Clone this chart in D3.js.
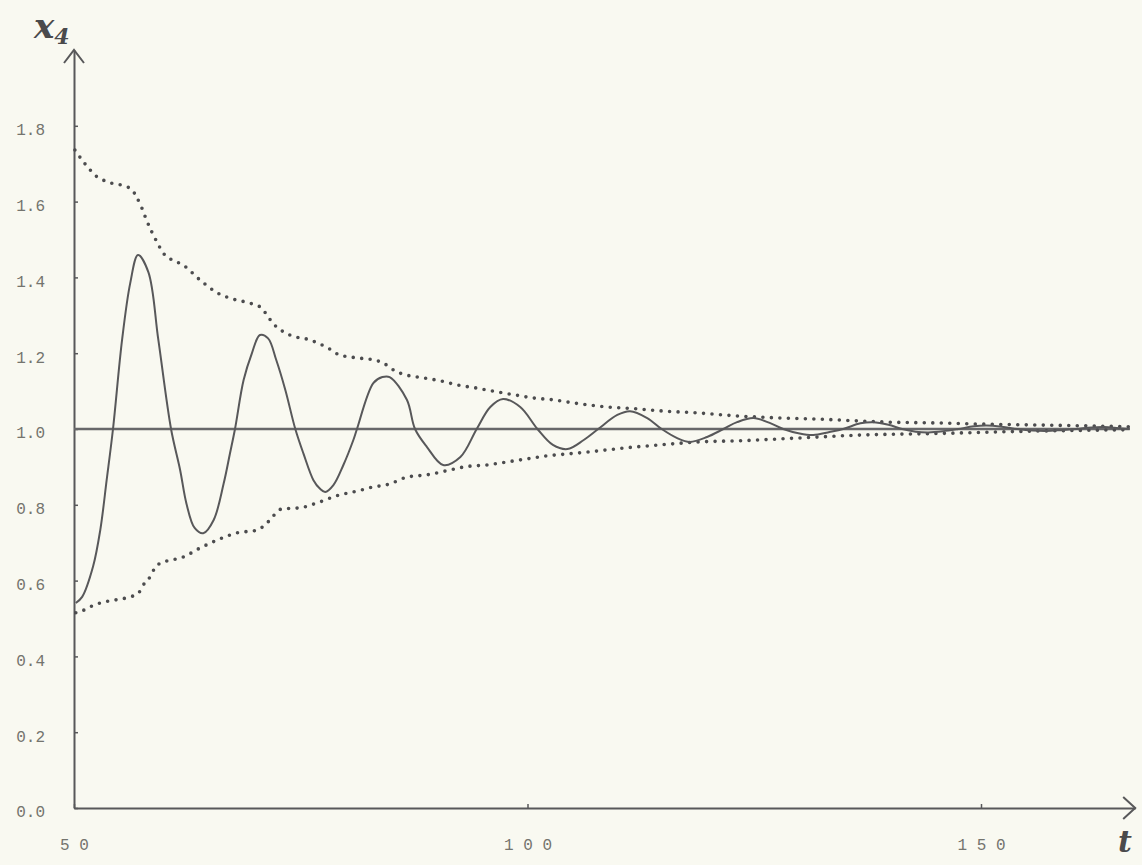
<!DOCTYPE html>
<html>
<head>
<meta charset="utf-8">
<script src="https://cdn.jsdelivr.net/npm/d3@7"></script>
<style>
  html, body { margin: 0; padding: 0; background: #f9f9f1; }
  svg { display: block; }
  .tick text { font-family: "Liberation Mono", "DejaVu Sans Mono", monospace; fill: #74746e; }
</style>
</head>
<body>
<div id="chart"></div>
<script>
// x4 response, t from 50 on as [t, x4]
const solidCurve = [
  [50.2, 0.541], [50.9, 0.557], [52.1, 0.637], [52.9, 0.734], [53.6, 0.865],
  [54.3, 1.0], [55.3, 1.235], [56.2, 1.385], [57.06, 1.459], [58.2, 1.414],
  [59.3, 1.235], [60.7, 1.0], [61.7, 0.892], [62.4, 0.803], [63.3, 0.739],
  [64.25, 0.725], [65.4, 0.76], [66.5, 0.856], [67.2, 0.936], [67.75, 1.0],
  [68.7, 1.129], [69.6, 1.199], [70.5, 1.248], [71.4, 1.239], [72.3, 1.182],
  [73.3, 1.103], [74.4, 1.0], [75.3, 0.935], [76.4, 0.865], [77.1, 0.843],
  [77.7, 0.834], [78.6, 0.852], [79.7, 0.905], [80.8, 0.971], [81.2, 1.0],
  [83.0, 1.121], [84.0, 1.137], [84.8, 1.137], [86.7, 1.077], [87.6, 1.0],
  [88.9, 0.953], [90.7, 0.905], [92.6, 0.926], [94.4, 1.0], [95.9, 1.058],
  [97.3, 1.079], [99.2, 1.058], [101.1, 1.0], [102.8, 0.958], [104.4, 0.947],
  [106.2, 0.971], [107.8, 1.0], [109.9, 1.037], [111.3, 1.047], [113.2, 1.029],
  [114.8, 1.0], [116.5, 0.976], [117.9, 0.966], [119.8, 0.979], [121.6, 1.0],
  [123.1, 1.018], [124.9, 1.029], [126.7, 1.016], [128.2, 1.0], [130.0, 0.988],
  [131.5, 0.984], [133.3, 0.992], [134.8, 1.0], [136.7, 1.015], [138.1, 1.018],
  [139.8, 1.011], [141.3, 1.0], [142.8, 0.993], [144.2, 0.991], [145.8, 0.994],
  [147.5, 1.0], [149.2, 1.007], [150.6, 1.009], [152.3, 1.006], [154.0, 1.0],
  [155.7, 0.996], [157.2, 0.995], [158.8, 0.997], [160.5, 1.0], [162.2, 1.004],
  [163.6, 1.005], [165.2, 1.002], [166.4, 1.0]
];

// upper dotted bound
const upperBound = [
  [50.1, 1.736], [51.0, 1.706], [51.8, 1.683], [52.5, 1.666], [53.2, 1.657],
  [54.2, 1.648], [55.6, 1.641], [56.4, 1.631], [56.9, 1.612], [57.5, 1.582],
  [58.0, 1.551], [59.2, 1.491], [59.85, 1.464], [60.6, 1.449], [62.0, 1.433],
  [63.9, 1.393], [65.8, 1.359], [67.5, 1.343], [69.4, 1.332], [70.7, 1.319],
  [71.25, 1.301], [71.9, 1.28], [73.8, 1.248], [76.0, 1.235], [78.2, 1.211],
  [79.3, 1.195], [81.5, 1.187], [83.3, 1.181], [84.1, 1.174], [85.4, 1.153],
  [86.7, 1.142], [88.5, 1.135], [90.4, 1.127], [92.3, 1.116], [94.4, 1.108],
  [96.6, 1.098], [98.6, 1.09], [100.6, 1.082], [102.8, 1.077], [105.0, 1.069],
  [107.2, 1.062], [109.4, 1.057], [111.6, 1.054], [114.6, 1.048], [119.0, 1.042],
  [123.4, 1.034], [128.0, 1.029], [132.2, 1.026], [136.7, 1.021], [140.0, 1.018],
  [145.0, 1.016], [150.0, 1.013], [155.0, 1.011], [160.0, 1.009], [166.4, 1.006]
];

// lower dotted bound
const lowerBound = [
  [50.2, 0.515], [50.7, 0.518], [51.8, 0.531], [52.9, 0.541], [54.0, 0.547],
  [55.1, 0.551], [56.2, 0.557], [57.1, 0.567], [57.8, 0.594], [58.4, 0.61],
  [58.9, 0.633], [59.5, 0.646], [60.3, 0.652], [62.0, 0.662], [63.9, 0.686],
  [65.8, 0.707], [68.0, 0.726], [70.2, 0.733], [70.7, 0.74], [71.4, 0.755],
  [72.9, 0.789], [74.9, 0.792], [76.8, 0.805], [79.0, 0.824], [81.5, 0.838],
  [82.6, 0.845], [84.8, 0.855], [86.7, 0.873], [88.9, 0.879], [91.1, 0.89],
  [93.3, 0.901], [95.5, 0.905], [97.7, 0.913], [99.9, 0.921], [102.1, 0.929],
  [104.3, 0.934], [106.6, 0.939], [108.8, 0.945], [111.6, 0.952], [114.6, 0.958],
  [119.0, 0.966], [123.4, 0.969], [128.0, 0.974], [132.2, 0.979], [136.7, 0.984],
  [140.0, 0.986], [145.0, 0.988], [150.0, 0.991], [155.0, 0.994], [160.0, 0.996],
  [166.4, 0.998]
];

const steadyLevel = 1.0;
const xTicks = [50, 100, 150];
const yTicks = [0, 0.2, 0.4, 0.6, 0.8, 1.0, 1.2, 1.4, 1.6, 1.8];

const width = 1142;
const height = 865;
const ink = "#58585a";

const xScale = d3.scaleLinear().domain([50, 167]).range([74, 74 + 117 * 9.07]);
const yScale = d3.scaleLinear().domain([0, 2]).range([808, 50]);

const svg = d3.select("#chart")
  .append("svg")
  .attr("width", width)
  .attr("height", height)
  .attr("viewBox", [0, 0, width, height]);

svg.append("rect")
  .attr("width", width)
  .attr("height", height)
  .attr("fill", "#f9f9f1");

// axes, ticks pointing inward
const xAxis = d3.axisBottom(xScale)
  .tickValues(xTicks)
  .tickSize(-4)
  .tickSizeOuter(0)
  .tickPadding(31)
  .tickFormat((d) => String(d).split("").join(" "));

const yAxis = d3.axisLeft(yScale)
  .tickValues(yTicks)
  .tickSize(-4)
  .tickSizeOuter(0)
  .tickPadding(29)
  .tickFormat(d3.format(".1f"));

svg.append("g")
  .attr("class", "xaxis")
  .attr("transform", `translate(0,${yScale(0)})`)
  .call(xAxis)
  .call((g) => g.selectAll("text").attr("font-size", 16))
  .call((g) => g.select(".domain").attr("stroke", ink).attr("stroke-width", 2))
  .call((g) => g.selectAll(".tick line").attr("stroke", ink).attr("stroke-width", 1.5));

svg.append("g")
  .attr("class", "yaxis")
  .attr("transform", `translate(${xScale(50)},0)`)
  .call(yAxis)
  .call((g) => g.selectAll("text").attr("font-size", 16).attr("dy", "0.55em"))
  .call((g) => g.select(".domain").attr("stroke", ink).attr("stroke-width", 2))
  .call((g) => g.selectAll(".tick line").attr("stroke", ink).attr("stroke-width", 1.5));

// arrow heads
const xEnd = xScale.range()[1];
const yTop = yScale.range()[1];
svg.append("path")
  .attr("d", `M${xEnd - 12},${yScale(0) - 11}L${xEnd},${yScale(0)}L${xEnd - 12},${yScale(0) + 11}`)
  .attr("fill", "none").attr("stroke", ink).attr("stroke-width", 2);
svg.append("path")
  .attr("d", `M${xScale(50) - 10},${yTop + 13}L${xScale(50)},${yTop}L${xScale(50) + 10},${yTop + 13}`)
  .attr("fill", "none").attr("stroke", ink).attr("stroke-width", 2);

// steady-state line
svg.append("line")
  .attr("x1", xScale(50))
  .attr("x2", xScale(166.4))
  .attr("y1", yScale(steadyLevel))
  .attr("y2", yScale(steadyLevel))
  .attr("stroke", "#68686a")
  .attr("stroke-width", 2.5);

const smooth = d3.line()
  .curve(d3.curveCatmullRom)
  .x((d) => xScale(d[0]))
  .y((d) => yScale(d[1]));

const mono = d3.line()
  .curve(d3.curveMonotoneX)
  .x((d) => xScale(d[0]))
  .y((d) => yScale(d[1]));

// dotted bounds
[upperBound, lowerBound].forEach((b) => {
  svg.append("path")
    .attr("d", mono(b))
    .attr("fill", "none")
    .attr("stroke", "#4c4c4e")
    .attr("stroke-width", 3.6)
    .attr("stroke-linecap", "round")
    .attr("stroke-dasharray", "0 8.5");
});

// response
svg.append("path")
  .attr("d", smooth(solidCurve))
  .attr("fill", "none")
  .attr("stroke", ink)
  .attr("stroke-width", 2);

// axis titles
const title = svg.append("text")
  .attr("x", 34)
  .attr("y", 38)
  .attr("font-family", "DejaVu Serif, serif")
  .attr("font-style", "italic")
  .attr("font-weight", "bold")
  .attr("font-size", 34)
  .attr("fill", "#4a4a4c");
title.append("tspan").text("x");
title.append("tspan").attr("font-size", 22).attr("dy", 6).text("4");

svg.append("text")
  .attr("x", 1118)
  .attr("y", 852)
  .attr("font-family", "DejaVu Serif, serif")
  .attr("font-style", "italic")
  .attr("font-weight", "bold")
  .attr("font-size", 30)
  .attr("fill", "#4a4a4c")
  .text("t");
</script>
</body>
</html>
